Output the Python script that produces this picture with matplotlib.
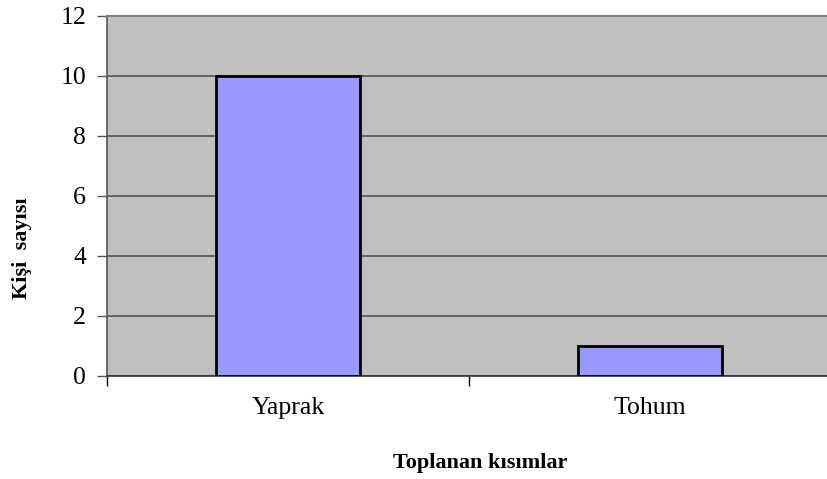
import matplotlib.pyplot as plt
import numpy as np

# chart data
categories = ['Yaprak', 'Tohum']
counts = [10, 1]
yticks = [0, 2, 4, 6, 8, 10, 12]

plt.rcParams['font.family'] = ['Liberation Serif', 'DejaVu Serif']

fig = plt.figure(figsize=(8.27, 4.79), dpi=100)
# plot area runs a bit past the right edge like the original
ax = fig.add_axes([107/827, 1 - 376/479, 724/827, 360/479])
ax.set_facecolor('#C0C0C0')

x = np.arange(len(categories))
ax.bar(x, counts, width=0.4, color='#9999FF', edgecolor='black', linewidth=2, zorder=3)

ax.set_xlim(-0.5, 1.5)
ax.set_ylim(0, 12)
ax.set_yticks(yticks)
ax.set_yticklabels([str(t) for t in yticks], fontsize=18.5)
ax.yaxis.grid(True, color='#555555', linewidth=1.2, zorder=1)
ax.set_axisbelow(True)

# category labels at centres, tick marks at boundaries
ax.set_xticks(x)
ax.set_xticklabels(categories, fontsize=18.5)
ax.tick_params(axis='x', length=0, pad=15)
ax.set_xticks([-0.5, 0.5, 1.5], minor=True)
ax.tick_params(axis='x', which='minor', length=7, width=1, color='black')
ax.tick_params(axis='y', length=7, width=1, color='#555555', pad=8)

for s in ['top', 'right']:
    ax.spines[s].set_color('#808080')
    ax.spines[s].set_linewidth(1.5)
ax.spines['left'].set_color('#555555')
ax.spines['bottom'].set_color('#333333')
ax.spines['left'].set_linewidth(1.2)
ax.spines['bottom'].set_linewidth(1.2)

fig.text(480/827, 1 - 463/479, 'Toplanan kısımlar', ha='center', va='center',
         fontsize=16, fontweight='bold')
fig.text(22/827, 1 - 248/479, 'Kişi  sayısı', ha='center', va='center',
         fontsize=16, fontweight='bold', rotation=90)

fig.savefig('out.png', dpi=100)
